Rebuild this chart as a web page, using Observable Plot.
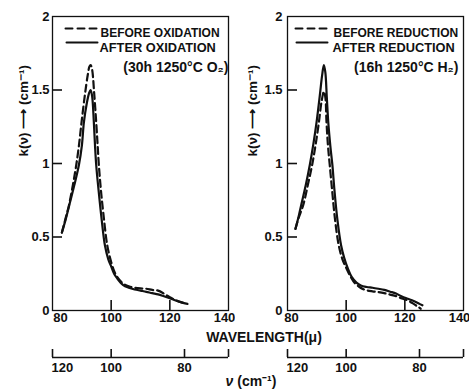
<!DOCTYPE html>
<html><head><meta charset="utf-8">
<script src="https://cdn.jsdelivr.net/npm/d3@7"></script>
<script src="https://cdn.jsdelivr.net/npm/@observablehq/plot@0.6"></script>
<style>
body{margin:0;background:#fff;}
#wrap{position:relative;width:469px;height:390px;overflow:hidden;font-family:"Liberation Sans",Arial,sans-serif;color:#111;background:#fff;}
.panel{position:absolute;top:0;}
.cap{position:absolute;white-space:nowrap;transform:translate(-50%,-50%);line-height:1;font-weight:bold;}
</style></head><body><div id="wrap"></div>
<script>
// ---- data (wavelength in micron, k in cm^-1) ----
const oxBeforeLambda = [83.2,84.5,85.6,87.0,88.1,89.0,89.9,91.0,92.0,92.6,93.0,93.5,94.2,94.9,95.4,95.8,96.5,97.5,98.7,100,101,102,104,106,108,110,112,114,116,118,120,122,124,125.5];
const oxBeforeK      = [0.53,0.63,0.715,0.86,0.99,1.12,1.28,1.46,1.60,1.66,1.67,1.64,1.48,1.28,1.12,0.99,0.82,0.63,0.44,0.33,0.27,0.23,0.185,0.165,0.155,0.15,0.148,0.14,0.135,0.115,0.09,0.07,0.055,0.047];
const oxAfterLambda  = [83.2,84.5,85.7,87.4,89.0,90.0,90.7,91.6,92.5,93.0,93.5,94.1,94.5,94.9,95.7,96.7,97.9,99,100,101,102,104,106,108,110,112,114,116,118,120,122,124,126];
const oxAfterK       = [0.53,0.62,0.715,0.85,0.99,1.12,1.28,1.40,1.48,1.50,1.46,1.28,1.12,0.99,0.82,0.63,0.44,0.35,0.30,0.25,0.22,0.175,0.155,0.143,0.135,0.127,0.118,0.11,0.097,0.083,0.068,0.055,0.045];
const redBeforeLambda = [82.7,83.8,85.4,87.0,88.4,89.6,90.7,91.6,92.4,92.9,93.3,93.8,94.4,95.2,96.2,97.5,98.7,100,101.5,103,104.5,106.5,109,111,113,115,117,119,121,123,124.5,125.4];
const redBeforeK      = [0.555,0.63,0.72,0.86,0.99,1.13,1.28,1.42,1.49,1.45,1.28,1.12,0.99,0.82,0.62,0.44,0.35,0.29,0.23,0.185,0.16,0.14,0.13,0.125,0.118,0.108,0.098,0.082,0.068,0.045,0.025,0.012];
const redAfterLambda  = [82.7,83.8,84.7,86.2,87.6,88.8,89.9,91.0,91.8,92.4,92.9,93.4,93.9,94.6,95.3,96.0,97.0,98.3,99.3,100.5,102,103.5,105,107,109,111,113,115,117,119,121,123,125,126];
const redAfterK       = [0.555,0.64,0.72,0.85,0.99,1.13,1.28,1.46,1.60,1.67,1.62,1.45,1.28,1.12,0.99,0.82,0.62,0.44,0.36,0.29,0.225,0.19,0.17,0.16,0.155,0.148,0.14,0.128,0.115,0.095,0.08,0.065,0.045,0.035];

const xDomain = [80, 140];
const yDomain = [0, 2];
const xTickValues = [80, 100, 120, 140];
const yTickValues = [0, 0.5, 1, 1.5, 2];
const nuTickValues = [100, 80];        // wavenumber ticks (cm^-1)
const nuLabelValues = [120, 100, 80];  // wavenumber labels (cm^-1)
const yTitle = "k(ν) ⟶ (cm⁻¹)";

const oxLegend = ["BEFORE OXIDATION", "AFTER OXIDATION", "(30h 1250°C O₂)"];
const redLegend = ["BEFORE REDUCTION", "AFTER REDUCTION", "(16h 1250°C H₂)"];

const table = (L, K) => L.map((l, i) => ({lambda: l, k: K[i]}));

const ink = "#111";
const FONT = "'Liberation Sans', Arial, sans-serif";
const lineShape = {draw(context, l) { context.moveTo(0, 0); context.lineTo(0, -l); }};
const W = 235, H = 390, MT = 16, MB = 80;
const TICK = 10, NU_OFF = 47, NU_TICK = 8;

function panel(cfg) {
  const dashed = table(cfg.beforeL, cfg.beforeK);
  const solid = table(cfg.afterL, cfg.afterK);
  const fw = W - cfg.ml - cfg.mr;   // frame width (px)
  const fh = H - MT - MB;           // frame height (px)
  const xPerPx = (xDomain[1] - xDomain[0]) / fw;
  const yPerPx = (yDomain[1] - yDomain[0]) / fh;
  const txt = {fill: ink, fontWeight: "bold"};
  const tk = {stroke: ink, strokeWidth: 1.6};
  return Plot.plot({
    width: W, height: H,
    marginLeft: cfg.ml, marginRight: cfg.mr, marginTop: MT, marginBottom: MB,
    x: {domain: xDomain, axis: null},
    y: {domain: yDomain, axis: null},
    style: {fontFamily: FONT, fontSize: "13px", color: ink, background: "transparent"},
    marks: [
      Plot.frame({stroke: ink, strokeWidth: 1.3}),
      // inner ticks
      Plot.ruleY(yTickValues.filter(d => d > 0 && d < 2), {y: d => d, x1: xDomain[0], x2: xDomain[0] + TICK * xPerPx, ...tk}),
      Plot.ruleX(xTickValues.filter(d => d > 80 && d < 140), {x: d => d, y1: yDomain[0], y2: yDomain[0] + TICK * yPerPx, ...tk}),
      // y tick labels
      Plot.text(yTickValues, {y: d => d, text: d => String(d), frameAnchor: "left", textAnchor: "end", dx: cfg.ylabDx, fontSize: 13, ...txt}),
      // x tick labels
      Plot.text(xTickValues.filter(d => d > 80 && d < 140), {x: d => d, text: d => String(d), frameAnchor: "bottom", dy: 11, fontSize: 13, ...txt}),
      Plot.text(xTickValues.filter(d => d === 80), {x: d => d, text: d => String(d), frameAnchor: "bottom", dy: 11, dx: cfg.dx80, fontSize: 13, ...txt}),
      Plot.text(xTickValues.filter(d => d === 140), {x: d => d, text: d => String(d), frameAnchor: "bottom", dy: 11, dx: -4, fontSize: 13, ...txt}),
      // y title
      Plot.text([yTitle], {text: d => d, frameAnchor: "left", rotate: -90, dx: cfg.titleDx, dy: -7, fontSize: 13.5, ...txt}),
      // curves
      Plot.line(dashed, {x: "lambda", y: "k", curve: "catmull-rom", stroke: ink, strokeWidth: 2.2, strokeDasharray: "7,4"}),
      Plot.line(solid, {x: "lambda", y: "k", curve: "catmull-rom", stroke: ink, strokeWidth: 2.2}),
      // legend
      Plot.vector([0], {frameAnchor: "top-left", dx: cfg.legLineDx, dy: 12, rotate: 90, length: 32, anchor: "start", shape: lineShape, stroke: ink, strokeWidth: 2, strokeDasharray: "7,5"}),
      Plot.vector([0], {frameAnchor: "top-left", dx: cfg.legLineDx + 1, dy: 26, rotate: 90, length: 31, anchor: "start", shape: lineShape, stroke: ink, strokeWidth: 2}),
      Plot.text([cfg.legend[0]], {text: d => d, frameAnchor: "top-left", textAnchor: "start", dx: cfg.legTextDx, dy: 12, fontSize: 12, ...txt}),
      Plot.text([cfg.legend[1]], {text: d => d, frameAnchor: "top-left", textAnchor: "start", dx: cfg.legTextDx - 1, dy: 26, fontSize: 12.8, ...txt}),
      Plot.text([cfg.legend[2]], {text: d => d, frameAnchor: "top-right", textAnchor: "end", dx: cfg.legRightDx, dy: 46, fontSize: 14, ...txt}),
      // wavenumber axis
      Plot.ruleY([yDomain[0]], {x1: xDomain[0], x2: xDomain[1], dy: NU_OFF, stroke: ink, strokeWidth: 1.3}),
      Plot.ruleX(xDomain, {x: d => d, y1: yDomain[0], y2: yDomain[0] + NU_TICK * yPerPx, dy: NU_OFF, ...tk}),
      Plot.ruleX(nuTickValues, {x: d => 10000 / d, y1: yDomain[0], y2: yDomain[0] + NU_TICK * yPerPx, dy: NU_OFF, ...tk}),
      Plot.text(nuLabelValues, {x: d => 10000 / d, text: d => String(d), frameAnchor: "bottom", dy: 61, fontSize: 13, ...txt})
    ]
  });
}

const wrap = document.getElementById("wrap");
const left = panel({ml: 52, mr: 7, ylabDx: -3, dx80: 8, titleDx: -29, legLineDx: 13, legTextDx: 48, legRightDx: 0,
  beforeL: oxBeforeLambda, beforeK: oxBeforeK, afterL: oxAfterLambda, afterK: oxAfterK, legend: oxLegend});
const right = panel({ml: 53, mr: 6, ylabDx: -5, dx80: 4, titleDx: -35, legLineDx: 8, legTextDx: 46, legRightDx: -5,
  beforeL: redBeforeLambda, beforeK: redBeforeK, afterL: redAfterLambda, afterK: redAfterK, legend: redLegend});
left.classList.add("panel"); left.style.left = "0px";
right.classList.add("panel"); right.style.left = "234px";
wrap.appendChild(left); wrap.appendChild(right);

const cap1 = document.createElement("div");
cap1.className = "cap"; cap1.style.left = "264px"; cap1.style.top = "337px"; cap1.style.fontSize = "14px";
cap1.textContent = "WAVELENGTH(μ)";
const cap2 = document.createElement("div");
cap2.className = "cap"; cap2.style.left = "251px"; cap2.style.top = "381px"; cap2.style.fontSize = "14px";
cap2.innerHTML = "<i>ν</i> (cm⁻¹)";
wrap.appendChild(cap1); wrap.appendChild(cap2);
</script></body></html>
